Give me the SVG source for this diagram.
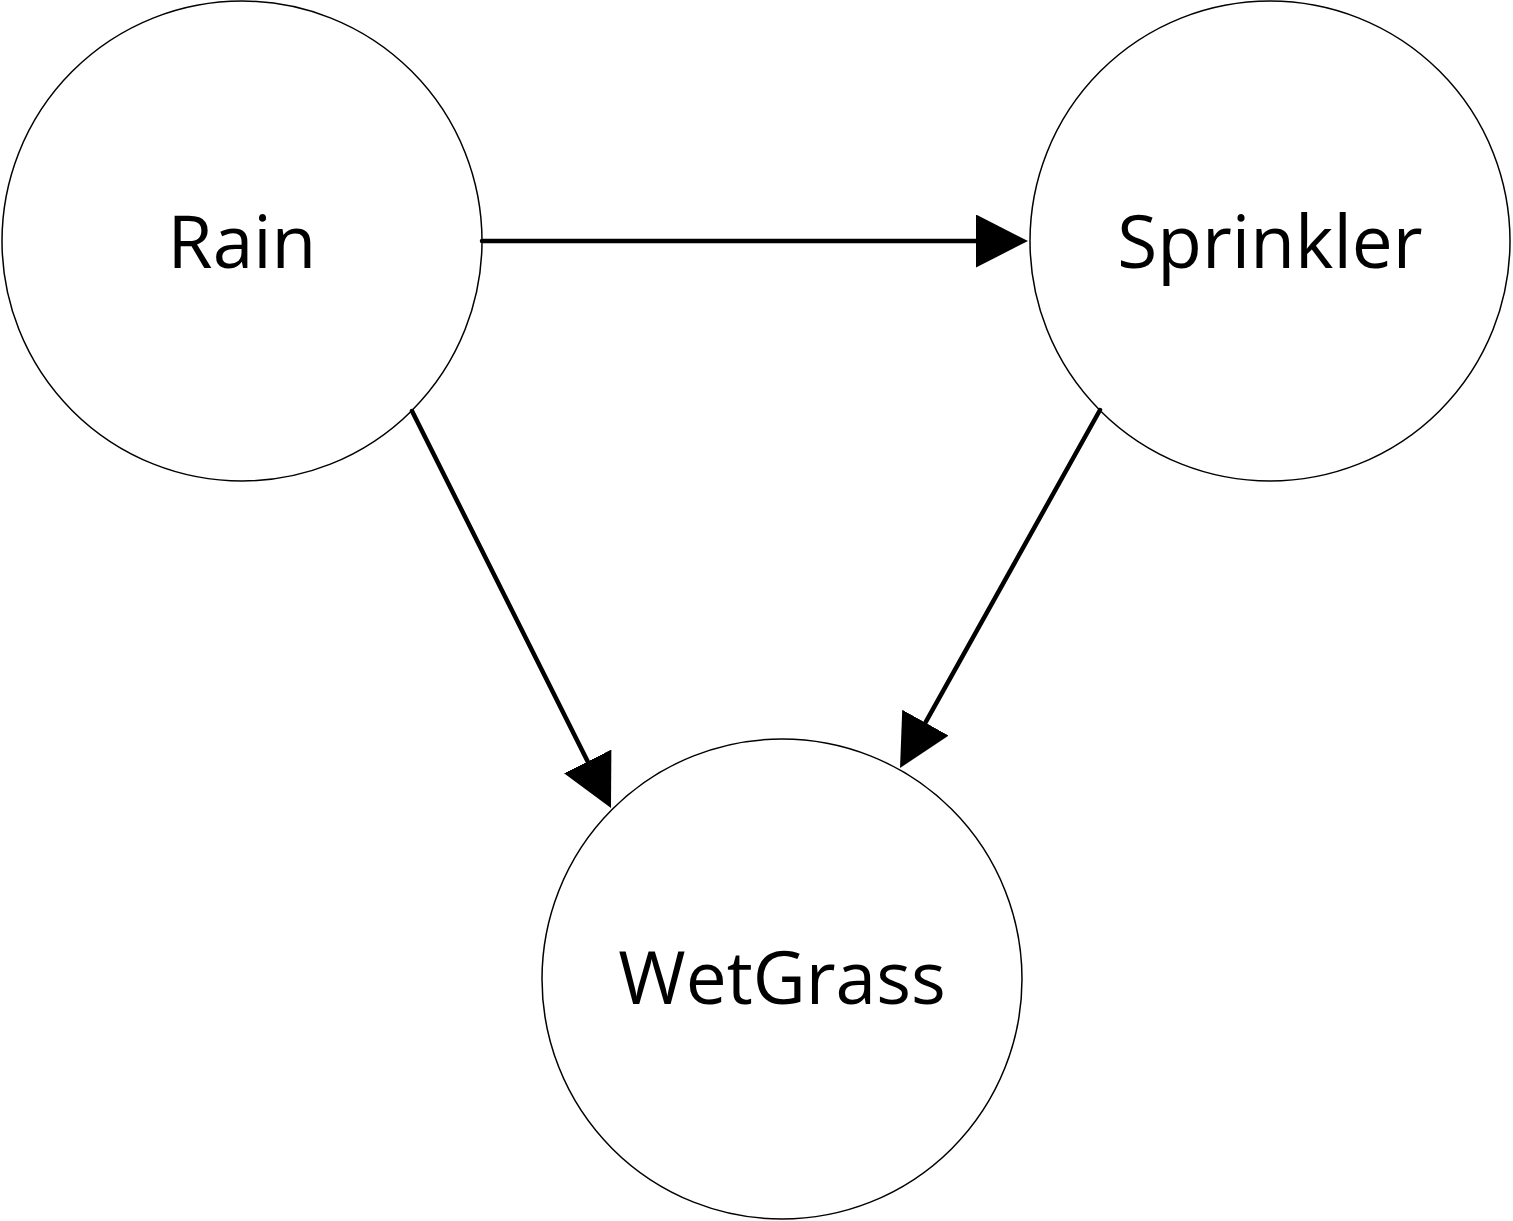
<svg xmlns="http://www.w3.org/2000/svg" width="1513" height="1221" viewBox="0 0 1513 1221">
<style>
.node circle{fill:#fff;stroke:#000;stroke-width:1.5}
.node text{font-family:"Open Sans","Noto Sans",sans-serif;font-size:73px;fill:#000;text-anchor:middle}
.edge{stroke:#000;stroke-width:4.5;fill:none;stroke-linecap:round;marker-end:url(#ah)}
</style>
<defs>
<marker id="ah" markerUnits="userSpaceOnUse" markerWidth="53" markerHeight="54" refX="42" refY="26.5" orient="auto" viewBox="0 0 53 54">
<path d="M0,0 L52,26.5 L0,53 z" fill="#000"/>
</marker>
</defs>
<rect width="1513" height="1221" fill="#fff"/>
<g id="rain" class="node"><circle cx="242" cy="241" r="240"/><text x="242" y="268">Rain</text></g>
<g id="sprinkler" class="node"><circle cx="1270" cy="241" r="240"/><text x="1270" y="268">Sprinkler</text></g>
<g id="wetgrass" class="node"><circle cx="782" cy="979" r="240"/><text x="782" y="1004">WetGrass</text></g>
<g id="edges">
<line class="edge" x1="482" y1="241" x2="1018" y2="241"/>
<line class="edge" x1="412" y1="411" x2="606.5" y2="799"/>
<line class="edge" x1="1100" y1="410" x2="904.9" y2="759.3"/>
</g>
</svg>
